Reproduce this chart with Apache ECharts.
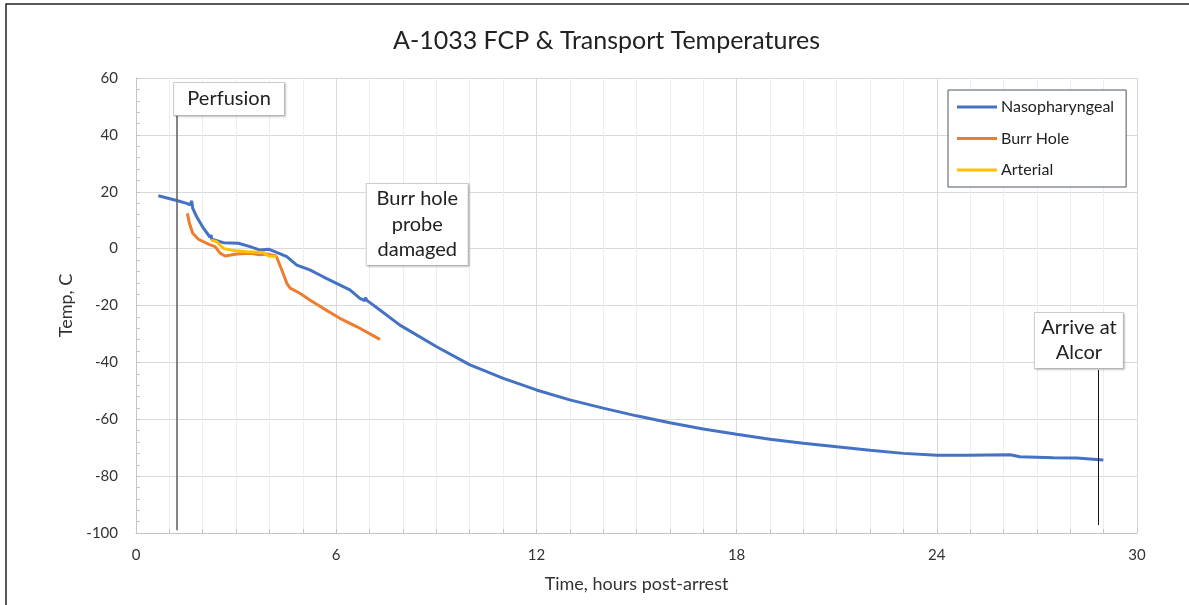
<!DOCTYPE html>
<html>
<head>
<meta charset="utf-8">
<title>A-1033 FCP & Transport Temperatures</title>
<script src="https://cdn.jsdelivr.net/npm/echarts@6/dist/echarts.min.js"></script>
<style>
  html, body { margin: 0; padding: 0; background: #fff; }
  #chart { width: 1189px; height: 605px; }
</style>
</head>
<body>
<div id="chart"></div>
<script>
// hours post-arrest / temperature (C)
var nasoHours = [0.67, 1.22, 1.52, 1.62, 1.67, 1.70, 1.82, 2.02, 2.22, 2.25, 2.27, 2.62, 3.07, 3.42, 3.72, 3.97,
  4.27, 4.52, 4.82, 5.21, 5.61, 6.01, 6.41, 6.71, 6.86, 6.88, 6.91, 7.31, 7.91, 9.01, 10.01, 11.01, 12.0,
  13.0, 14.0, 15.0, 16.0, 17.0, 18.0, 19.0, 20.0, 21.0, 22.0, 23.0, 24.0, 24.9, 26.2, 26.24, 26.49, 27.49, 28.19, 28.99];
var nasoTemps = [18.6, 16.9, 15.9, 15.4, 16.8, 14.2, 11.2, 7.2, 4.0, 4.8, 3.3, 2.1, 1.9, 0.7, -0.5, -0.2,
  -1.6, -2.8, -5.8, -7.5, -9.9, -12.2, -14.5, -17.5, -18.3, -17.2, -18.1, -21.6, -26.9, -34.5, -40.9, -45.6, -49.7,
  -53.2, -56.1, -58.8, -61.2, -63.4, -65.3, -67.0, -68.4, -69.7, -70.9, -72.0, -72.7, -72.7, -72.5, -72.2, -73.2, -73.5, -73.6, -74.3];

var burrHours = [1.54, 1.60, 1.70, 1.87, 2.17, 2.37, 2.52, 2.67, 3.02, 3.42, 3.72, 3.92, 4.20, 4.37, 4.52, 4.62,
  4.91, 5.21, 5.61, 6.11, 6.61, 7.31];
var burrTemps = [12.4, 8.9, 5.4, 3.3, 1.6, 0.7, -1.6, -2.6, -1.9, -1.6, -2.2, -1.9, -2.6, -7.5, -12.2, -13.9,
  -15.7, -18.1, -21.0, -24.5, -27.4, -31.9];

var artHours = [2.25, 2.42, 2.62, 2.92, 3.32, 3.82, 3.97, 4.22];
var artTemps = [3.0, 2.4, 0.1, -0.7, -1.1, -1.4, -2.6, -2.8];

// annotations: [hour, temp low, temp high] for the call-out lines, [hour, temp] for the boxes
var perfusionLine = [1.23, -99, 46.6];
var alcorLine = [28.83, -97.2, -42.7];
var perfusionBox = [2.79, 52.6];
var burrBox = [8.43, 8.5];
var alcorBox = [28.26, -32.3];

function pairs(xs, ys) {
  return xs.map(function (x, i) { return [x, ys[i]]; });
}

var font = "Lato, 'Noto Sans', sans-serif";
var boxStyle = {
  show: true,
  position: "inside",
  color: "#222",
  fontFamily: font,
  fontSize: 20,
  backgroundColor: "#fff",
  borderColor: "#cfcfcf",
  borderWidth: 1,
  shadowColor: "rgba(0,0,0,0.18)",
  shadowBlur: 2,
  shadowOffsetX: 1,
  shadowOffsetY: 1,
  align: "center",
  verticalAlign: "middle"
};

var chart = echarts.init(document.getElementById("chart"));
chart.setOption({
  animation: false,
  backgroundColor: "#fff",
  textStyle: { fontFamily: font },
  title: {
    text: "A-1033 FCP & Transport Temperatures",
    left: 388,
    top: 23,
    textStyle: { fontSize: 25, fontWeight: "normal", color: "#222", fontFamily: font }
  },
  graphic: [{
    type: "rect",
    shape: { x: 6, y: 4, width: 1300, height: 700 },
    style: { fill: "none", stroke: "#222", lineWidth: 1.5 },
    silent: true,
    z: 100
  }],
  grid: { left: 136, right: 52, top: 78, bottom: 72, containLabel: false },
  legend: {
    orient: "vertical",
    left: 948,
    top: 90,
    padding: [8, 12, 8, 9],
    itemWidth: 40,
    itemHeight: 3,
    itemGap: 13.5,
    icon: "rect",
    borderColor: "#4a5566",
    borderWidth: 1,
    backgroundColor: "#fff",
    textStyle: { fontSize: 16, color: "#222", fontFamily: font, lineHeight: 18, padding: [0, 0, 0, -1] },
    data: ["Nasopharyngeal", "Burr Hole", "Arterial"]
  },
  xAxis: {
    type: "value",
    min: 0,
    max: 30,
    interval: 6,
    name: "Time, hours post-arrest",
    nameLocation: "middle",
    nameGap: 42,
    nameTextStyle: { fontSize: 18, color: "#333" },
    axisLine: { show: true, onZero: false, lineStyle: { color: "#c4c4c4", width: 1 } },
    axisTick: { show: true, inside: true, length: 4, lineStyle: { color: "#c4c4c4" } },
    minorTick: { show: true, splitNumber: 6, length: 4, lineStyle: { color: "#c4c4c4" } },
    axisLabel: { fontSize: 15, color: "#333", margin: 15 },
    splitLine: { show: true, lineStyle: { color: "#d9d9d9", width: 1 } },
    minorSplitLine: { show: true, lineStyle: { color: "#eeeeee", width: 1 } }
  },
  yAxis: {
    type: "value",
    min: -100,
    max: 60,
    interval: 20,
    name: "Temp, C",
    nameLocation: "middle",
    nameGap: 53,
    nameTextStyle: { fontSize: 18, color: "#333" },
    axisLine: { show: true, onZero: false, lineStyle: { color: "#c4c4c4", width: 1 } },
    axisTick: { show: true, inside: true, length: 4, lineStyle: { color: "#c4c4c4" } },
    minorTick: { show: true, splitNumber: 5, length: 4, lineStyle: { color: "#c4c4c4" } },
    axisLabel: { fontSize: 15, color: "#333", margin: 18 },
    splitLine: { show: true, lineStyle: { color: "#d9d9d9", width: 1 } }
  },
  series: [
    {
      name: "Nasopharyngeal",
      type: "line",
      data: pairs(nasoHours, nasoTemps),
      showSymbol: false,
      symbol: "none",
      color: "#4472C4",
      lineStyle: { width: 3, color: "#4472C4" },
      z: 3,
      markLine: {
        silent: true,
        symbol: "none",
        label: { show: false },
        data: [
          [{ coord: [perfusionLine[0], perfusionLine[1]], lineStyle: { color: "#666", width: 1.6, type: "solid" } },
           { coord: [perfusionLine[0], perfusionLine[2]] }],
          [{ coord: [alcorLine[0], alcorLine[1]], lineStyle: { color: "#111", width: 1, type: "solid" } },
           { coord: [alcorLine[0], alcorLine[2]] }]
        ]
      },
      markPoint: {
        silent: true,
        symbol: "rect",
        symbolSize: 0,
        data: [
          { coord: perfusionBox, label: Object.assign({}, boxStyle, { formatter: "Perfusion", width: 110, height: 32, lineHeight: 24 }) },
          { coord: burrBox, label: Object.assign({}, boxStyle, { formatter: "Burr hole\nprobe\ndamaged", width: 101, height: 81, lineHeight: 25.5 }) },
          { coord: alcorBox, label: Object.assign({}, boxStyle, { formatter: "Arrive at\nAlcor", width: 88, height: 55, lineHeight: 25 }) }
        ]
      }
    },
    {
      name: "Burr Hole",
      type: "line",
      data: pairs(burrHours, burrTemps),
      showSymbol: false,
      symbol: "none",
      color: "#ED7D31",
      lineStyle: { width: 3, color: "#ED7D31" },
      z: 4
    },
    {
      name: "Arterial",
      type: "line",
      data: pairs(artHours, artTemps),
      showSymbol: false,
      symbol: "none",
      color: "#FFC000",
      lineStyle: { width: 3, color: "#FFC000" },
      z: 5
    }
  ]
});
</script>
</body>
</html>
